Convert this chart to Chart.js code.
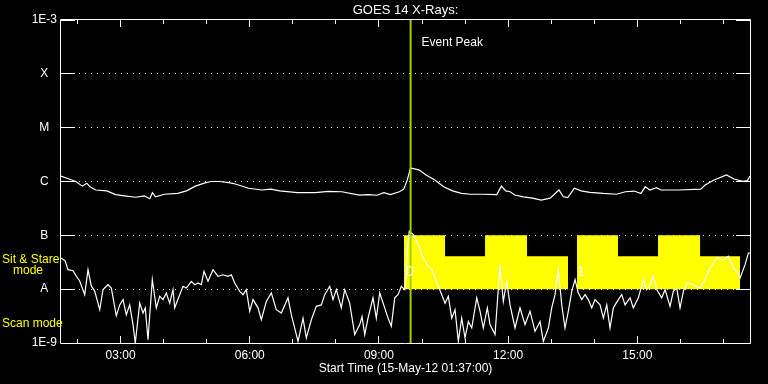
<!DOCTYPE html>
<html>
<head>
<meta charset="utf-8">
<script src="https://cdn.jsdelivr.net/npm/chart.js@4.4.1/dist/chart.umd.min.js"></script>
<style>
  html, body { margin: 0; padding: 0; background: #000; }
</style>
</head>
<body>
<canvas id="myChart" width="768" height="384"></canvas>
<script>
// time axis in hours (UT), plot starts 15-May-12 01:37:00 and covers 16 h
const startHour = 1 + 37 / 60;
const endHour = startHour + 16;

// long channel (upper curve), W/m^2
const longTimes = [1.617, 1.754, 1.958, 2.114, 2.216, 2.288, 2.423, 2.680, 2.885, 3.091,
  3.349, 3.554, 3.679, 3.739, 3.811, 4.018, 4.327, 4.531, 4.738, 4.945,
  5.098, 5.305, 5.511, 5.665, 5.974, 6.282, 6.489, 6.693, 7.107, 7.518,
  7.827, 8.136, 8.547, 8.753, 8.958, 9.113, 9.267, 9.473, 9.576, 9.659,
  9.731, 9.782, 9.938, 10.093, 10.298, 10.502, 10.709, 10.916, 11.120, 11.429,
  11.738, 11.843, 11.945, 12.047, 12.152, 12.356, 12.562, 12.769, 12.973, 13.180,
  13.282, 13.384, 13.540, 13.693, 13.900, 14.209, 14.518, 14.724, 14.929, 15.084,
  15.186, 15.289, 15.444, 15.546, 15.957, 16.473, 16.575, 16.782, 17.070, 17.244,
  17.451, 17.555, 17.617];
const longFlux = [1.26e-6, 1.15e-6, 1.0e-6, 8.2e-7, 9.3e-7, 8.0e-7, 6.95e-7, 6.7e-7, 5.7e-7, 5.4e-7,
  5.1e-7, 5.4e-7, 4.8e-7, 6.2e-7, 5.2e-7, 5.8e-7, 6.0e-7, 6.7e-7, 8.2e-7, 9.3e-7,
  1.0e-6, 1.0e-6, 9.5e-7, 9.0e-7, 7.5e-7, 6.95e-7, 7.2e-7, 6.7e-7, 6.2e-7, 6.2e-7,
  6.55e-7, 6.45e-7, 5.6e-7, 5.7e-7, 5.55e-7, 6.2e-7, 5.7e-7, 6.45e-7, 7.2e-7, 1.07e-6,
  1.75e-6, 1.75e-6, 1.63e-6, 1.32e-6, 1.07e-6, 8.0e-7, 6.7e-7, 6.0e-7, 5.8e-7, 5.8e-7,
  5.7e-7, 8.2e-7, 6.7e-7, 6.45e-7, 5.6e-7, 5.2e-7, 4.9e-7, 4.5e-7, 4.9e-7, 6.95e-7,
  5.2e-7, 5.0e-7, 7.5e-7, 6.7e-7, 6.3e-7, 6.0e-7, 5.8e-7, 6.45e-7, 6.65e-7, 6.0e-7,
  8.0e-7, 6.95e-7, 7.7e-7, 6.95e-7, 6.95e-7, 7.2e-7, 8.6e-7, 1.07e-6, 1.32e-6, 1.11e-6,
  1.01e-6, 1.04e-6, 1.26e-6];

// short channel (lower curve), W/m^2
const shortTimes = [1.617, 1.710, 1.779, 1.895, 1.972, 2.051, 2.167, 2.244, 2.320, 2.399,
  2.516, 2.592, 2.708, 2.785, 2.901, 2.980, 3.057, 3.133, 3.212, 3.289,
  3.342, 3.444, 3.521, 3.574, 3.637, 3.737, 3.830, 3.909, 3.985, 4.062,
  4.141, 4.218, 4.257, 4.373, 4.450, 4.527, 4.643, 4.722, 4.798, 4.875,
  4.938, 5.031, 5.147, 5.263, 5.379, 5.495, 5.572, 5.651, 5.767, 5.843,
  5.920, 5.999, 6.076, 6.192, 6.268, 6.384, 6.501, 6.617, 6.733, 6.888,
  6.965, 7.121, 7.237, 7.313, 7.430, 7.546, 7.662, 7.741, 7.857, 7.933,
  8.010, 8.126, 8.205, 8.321, 8.437, 8.554, 8.607, 8.670, 8.746, 8.862,
  8.939, 9.018, 9.134, 9.211, 9.287, 9.366, 9.443, 9.520, 9.598, 9.620,
  9.659, 9.705, 9.798, 9.915, 9.994, 10.110, 10.226, 10.302, 10.379, 10.458,
  10.535, 10.611, 10.690, 10.767, 10.843, 10.922, 10.999, 11.076, 11.155, 11.271,
  11.347, 11.424, 11.517, 11.579, 11.696, 11.812, 11.888, 11.967, 12.044, 12.160,
  12.276, 12.392, 12.508, 12.625, 12.741, 12.817, 12.934, 13.012, 13.089, 13.166,
  13.245, 13.321, 13.398, 13.477, 13.554, 13.630, 13.709, 13.786, 13.862, 13.941,
  14.018, 14.134, 14.211, 14.290, 14.366, 14.443, 14.559, 14.638, 14.715, 14.831,
  14.907, 15.024, 15.140, 15.219, 15.295, 15.372, 15.451, 15.567, 15.644, 15.760,
  15.836, 15.915, 15.992, 16.069, 16.148, 16.301, 16.457, 16.573, 16.689, 16.845,
  16.998, 17.114, 17.230, 17.309, 17.386, 17.502, 17.579, 17.617];
const shortFlux = [3.8e-8, 3.4e-8, 2.3e-8, 2.2e-8, 1.75e-8, 1.42e-8, 7.9e-9, 2.3e-8, 1.15e-8, 9.2e-9,
  4.15e-9, 9.8e-9, 1.21e-8, 1.05e-8, 3.2e-9, 5.1e-9, 6.4e-9, 3.35e-9, 5.1e-9, 2.2e-9,
  1.0e-9, 5.5e-9, 3.6e-9, 4.5e-9, 1.15e-9, 1.5e-8, 4.5e-9, 7.4e-9, 6.4e-9, 8.5e-9,
  5.5e-9, 9.8e-9, 4.5e-9, 7.9e-9, 1.13e-8, 1.05e-8, 1.4e-8, 1.21e-8, 1.3e-8, 1.21e-8,
  2.15e-8, 1.4e-8, 2.3e-8, 1.73e-8, 1.85e-8, 1.73e-8, 1.85e-8, 1.3e-8, 9.1e-9, 7.9e-9,
  9.8e-9, 3.9e-9, 6.4e-9, 4.5e-9, 2.7e-9, 5.9e-9, 8.5e-9, 4.15e-9, 3.6e-9, 6.9e-9,
  3.35e-9, 1.07e-9, 2.9e-9, 1.24e-9, 2.7e-9, 4.8e-9, 5.1e-9, 7.9e-9, 1.13e-8, 6.4e-9,
  9.8e-9, 4.5e-9, 9.8e-9, 5.5e-9, 1.43e-9, 2.2e-9, 3.1e-9, 1.43e-9, 2.9e-9, 6.9e-9,
  2.9e-9, 8.5e-9, 4.5e-9, 2.9e-9, 2.04e-9, 6.9e-9, 7.9e-9, 1.13e-8, 9.8e-9, 1.4e-8,
  5.8e-8, 1.19e-7, 1.03e-7, 6.7e-8, 4.37e-8, 2.85e-8, 2.3e-8, 1.61e-8, 1.13e-8, 7.9e-9,
  5.5e-9, 7.4e-9, 2.9e-9, 4.15e-9, 1.07e-9, 2.9e-9, 1.24e-9, 2.5e-9, 1.9e-9, 6.9e-9,
  3.9e-9, 1.9e-9, 4.5e-9, 2.2e-9, 1.43e-9, 2.85e-8, 5.9e-9, 1.4e-8, 5.1e-9, 1.9e-9,
  4.5e-9, 2.2e-9, 3.9e-9, 1.65e-9, 2.5e-9, 1.07e-9, 1.9e-9, 4.5e-9, 7.9e-9, 2.3e-8,
  5.1e-9, 1.9e-9, 3.9e-9, 9.1e-9, 1.5e-8, 8.5e-9, 6.4e-9, 7.9e-9, 6.4e-9, 4.5e-9,
  6.4e-9, 5.1e-9, 2.9e-9, 5.1e-9, 1.9e-9, 4.5e-9, 6.4e-9, 7.9e-9, 5.1e-9, 6.9e-9,
  4.5e-9, 6.9e-9, 1.5e-8, 9.8e-9, 1.21e-8, 1.73e-8, 9.8e-9, 6.9e-9, 9.8e-9, 4.8e-9,
  9.1e-9, 1.05e-8, 4.5e-9, 9.1e-9, 1.3e-8, 1.21e-8, 1.05e-8, 1.5e-8, 2.47e-8, 3.8e-8,
  3.5e-8, 4.1e-8, 2.47e-8, 2.15e-8, 1.61e-8, 2.85e-8, 4.7e-8, 4.7e-8];

// sit & stare mode blocks (yellow), null = no block
const modeTimes = [9.582, 10.535, 11.464, 12.439, 13.391, 13.5, 13.600, 14.552, 15.481, 16.457, 17.386];
const modeLevels = [1e-7, 4.1e-8, 1e-7, 4.1e-8, 4.1e-8, null, 1e-7, 4.1e-8, 1e-7, 4.1e-8, 4.1e-8];
const modeBase = 1e-8;

const eventPeakHour = 9.735;
const flagTimes = [9.715, 13.69];
const flagTexts = ["0", "1"];

const yTickValues = [1e-9, 1e-8, 1e-7, 1e-6, 1e-5, 1e-4, 1e-3];
const yTickLabels = ["1E-9", "A", "B", "C", "M", "X", "1E-3"];
const xLabelHours = [3, 6, 9, 12, 15];

Chart.defaults.font.family = "'Liberation Sans', Arial, sans-serif";
Chart.defaults.font.size = 12;
Chart.defaults.color = "#fff";

const toPoints = (xs, ys) => xs.map((x, i) => ({ x: x, y: ys[i] }));

// frame, inward tick marks and annotations
const framePlugin = {
  id: "frame",
  afterDraw(chart) {
    const { ctx, chartArea: a, scales } = chart;
    const xs = scales.x, ys = scales.y;
    const al = (p) => Math.round(p - 0.5) + 0.5;
    ctx.save();
    ctx.strokeStyle = "#fff";
    ctx.lineWidth = 1;
    ctx.beginPath();
    ctx.rect(a.left - 0.5, a.top - 0.5, a.right - a.left + 1, a.bottom - a.top + 1);
    yTickValues.forEach((v) => {
      const py = al(ys.getPixelForValue(v));
      ctx.moveTo(a.left, py); ctx.lineTo(a.left + 14, py);
      ctx.moveTo(a.right - 14, py); ctx.lineTo(a.right, py);
    });
    for (let h = Math.ceil(startHour); h <= endHour; h++) {
      const px = al(xs.getPixelForValue(h));
      const len = h % 3 === 0 ? 7 : 4;
      ctx.moveTo(px, a.top); ctx.lineTo(px, a.top + len);
      ctx.moveTo(px, a.bottom); ctx.lineTo(px, a.bottom - len);
    }
    ctx.stroke();

    ctx.textBaseline = "middle";
    ctx.font = "12px 'Liberation Sans', Arial, sans-serif";
    ctx.fillStyle = "#fff";
    ctx.textAlign = "left";
    ctx.fillText("Event Peak", xs.getPixelForValue(eventPeakHour) + 11, a.top + 23);

    ctx.fillStyle = "#ffff00";
    ctx.fillText("Sit & Stare", 2, ys.getPixelForValue(3.6e-8));
    ctx.fillText("mode", 13, ys.getPixelForValue(2.2e-8));
    ctx.fillText("Scan mode", 2, ys.getPixelForValue(2.3e-9));

    ctx.fillStyle = "#fff";
    ctx.textAlign = "center";
    ctx.font = "15px 'Liberation Sans', Arial, sans-serif";
    flagTimes.forEach((t, i) => {
      ctx.fillText(flagTexts[i], xs.getPixelForValue(t), ys.getPixelForValue(2.1e-8));
    });
    ctx.restore();
  }
};

const config = {
  type: "line",
  data: {
    datasets: [
      {
        label: "Event Peak",
        data: [{ x: eventPeakHour, y: 1e-9 }, { x: eventPeakHour, y: 1e-3 }],
        borderColor: "#a0d000",
        borderWidth: 2,
        pointRadius: 0,
        order: 0
      },
      {
        label: "Long",
        data: toPoints(longTimes, longFlux),
        borderColor: "#fff",
        borderWidth: 1.2,
        pointRadius: 0,
        order: 1
      },
      {
        label: "Short",
        data: toPoints(shortTimes, shortFlux),
        borderColor: "#fff",
        borderWidth: 1.2,
        pointRadius: 0,
        order: 1
      },
      {
        label: "Sit & Stare mode",
        data: toPoints(modeTimes, modeLevels),
        stepped: "before",
        borderColor: "#ffff00",
        borderWidth: 0,
        backgroundColor: "#ffff00",
        fill: { value: modeBase },
        pointRadius: 0,
        order: 2
      }
    ]
  },
  options: {
    responsive: false,
    animation: false,
    layout: { padding: { left: 0, right: 18, top: 0, bottom: 0 } },
    plugins: { legend: { display: false }, tooltip: { enabled: false } },
    scales: {
      x: {
        type: "linear",
        position: "bottom",
        min: startHour,
        max: endHour,
        grid: { display: false, drawTicks: false },
        border: { display: false },
        afterBuildTicks: (s) => { s.ticks = xLabelHours.map((v) => ({ value: v })); },
        afterFit: (s) => { s.height = 41; },
        ticks: {
          autoSkip: false,
          maxRotation: 0,
          padding: 5,
          color: "#fff",
          callback: (v) => String(v).padStart(2, "0") + ":00"
        },
        title: {
          display: true,
          text: "Start Time (15-May-12 01:37:00)",
          color: "#fff",
          padding: { top: 0, bottom: 8.5 }
        }
      },
      x2: {
        type: "linear",
        position: "top",
        min: startHour,
        max: endHour,
        grid: { display: false, drawTicks: false },
        border: { display: false },
        ticks: { display: false },
        afterFit: (s) => { s.height = 20; },
        title: {
          display: true,
          text: "GOES 14 X-Rays:",
          color: "#fff",
          font: { size: 13 },
          padding: { top: 2.5, bottom: 0 }
        }
      },
      y: {
        type: "logarithmic",
        position: "left",
        min: 1e-9,
        max: 1e-3,
        afterBuildTicks: (s) => { s.ticks = yTickValues.map((v) => ({ value: v })); },
        afterFit: (s) => { s.width = 61; },
        grid: {
          drawTicks: false,
          lineWidth: 1,
          color: (c) => (c.index === 0 || c.index === yTickValues.length - 1 ? "rgba(0,0,0,0)" : "#fff")
        },
        border: { display: false, dash: [1, 5] },
        ticks: {
          crossAlign: "center",
          padding: 4,
          color: "#fff",
          callback: (v, i) => yTickLabels[i]
        }
      }
    }
  },
  plugins: [framePlugin]
};

window.onload = () => {
  new Chart(document.getElementById("myChart"), config);
};
</script>
</body>
</html>
